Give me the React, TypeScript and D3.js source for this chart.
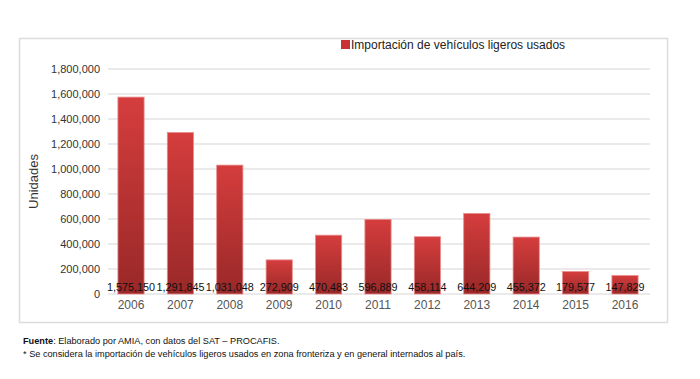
import React from "react";
import * as d3 from "d3";

const years = ["2006","2007","2008","2009","2010","2011","2012","2013","2014","2015","2016"];
const values = [1575150,1291845,1031048,272909,470483,596889,458114,644209,455372,179577,147829];
const yTicks = [0,200000,400000,600000,800000,1000000,1200000,1400000,1600000,1800000];
const legendLabel = "Importación de vehículos ligeros usados";
const yTitle = "Unidades";
const note1Bold = "Fuente";
const note1 = ": Elaborado por AMIA, con datos del SAT – PROCAFIS.";
const note2 = "* Se considera la importación de vehículos ligeros usados en zona fronteriza y en general internados al país.";

export default function App() {
  const W = 700, H = 379;
  const x = d3.scaleBand<string>().domain(years).range([106.3, 649.7]).paddingInner(0.47).paddingOuter(0.235);
  const y = d3.scaleLinear().domain([0, 1800000]).range([294, 69]);
  const fmt = d3.format(",");
  const font = "'Liberation Sans', Arial, sans-serif";
  return (
    <svg width={W} height={H} style={{ position: "absolute", left: 0, top: 0, background: "#fff" }} fontFamily={font}>
      <defs>
        <linearGradient id="barGrad" x1="0" y1="0" x2="0" y2="1">
          <stop offset="0%" stopColor="#d53d3d" />
          <stop offset="100%" stopColor="#992828" />
        </linearGradient>
      </defs>
      <rect x={19.5} y={38.5} width={648} height={284} fill="#fff" stroke="#dcdcdc" strokeWidth={1.5} />
      {yTicks.map((t) => (
        <g key={t}>
          {t > 0 && <line x1={108} x2={650} y1={y(t)} y2={y(t)} stroke="#e3e3e3" strokeWidth={1.5} />}
          <text x={100} y={y(t)} dy="0.35em" textAnchor="end" fontSize={11} fill="#333">{fmt(t)}</text>
        </g>
      ))}
      <line x1={108} x2={650} y1={y(0)} y2={y(0)} stroke="#e3e3e3" strokeWidth={1.5} />
      <text transform={`translate(33,${(y(0) + y(1800000)) / 2}) rotate(-90)`} textAnchor="middle" dy="0.35em" fontSize={13} fill="#333">{yTitle}</text>
      {years.map((yr, i) => (
        <rect key={yr} x={x(yr)} y={y(values[i])} width={x.bandwidth()} height={y(0) - y(values[i])} fill="url(#barGrad)" stroke="#e98a8a" strokeWidth={0.8} />
      ))}
      {years.map((yr, i) => (
        <text key={"v" + yr} x={(x(yr) as number) + x.bandwidth() / 2} y={287} dy="0.35em" textAnchor="middle" fontSize={10.8} fill="#111">{fmt(values[i])}</text>
      ))}
      {years.map((yr) => (
        <text key={"l" + yr} x={(x(yr) as number) + x.bandwidth() / 2} y={304.5} dy="0.35em" textAnchor="middle" fontSize={12} fill="#555">{yr}</text>
      ))}
      <rect x={341} y={40} width={9} height={9} fill="#c83232" />
      <text x={351} y={44.5} dy="0.35em" fontSize={12} fill="#222">{legendLabel}</text>
      <text x={23} y={341} dy="0.35em" fontSize={9.2} fill="#111">
        <tspan fontWeight="bold">{note1Bold}</tspan>{note1}
      </text>
      <text x={23} y={354} dy="0.35em" fontSize={9.2} fill="#111">{note2}</text>
    </svg>
  );
}
